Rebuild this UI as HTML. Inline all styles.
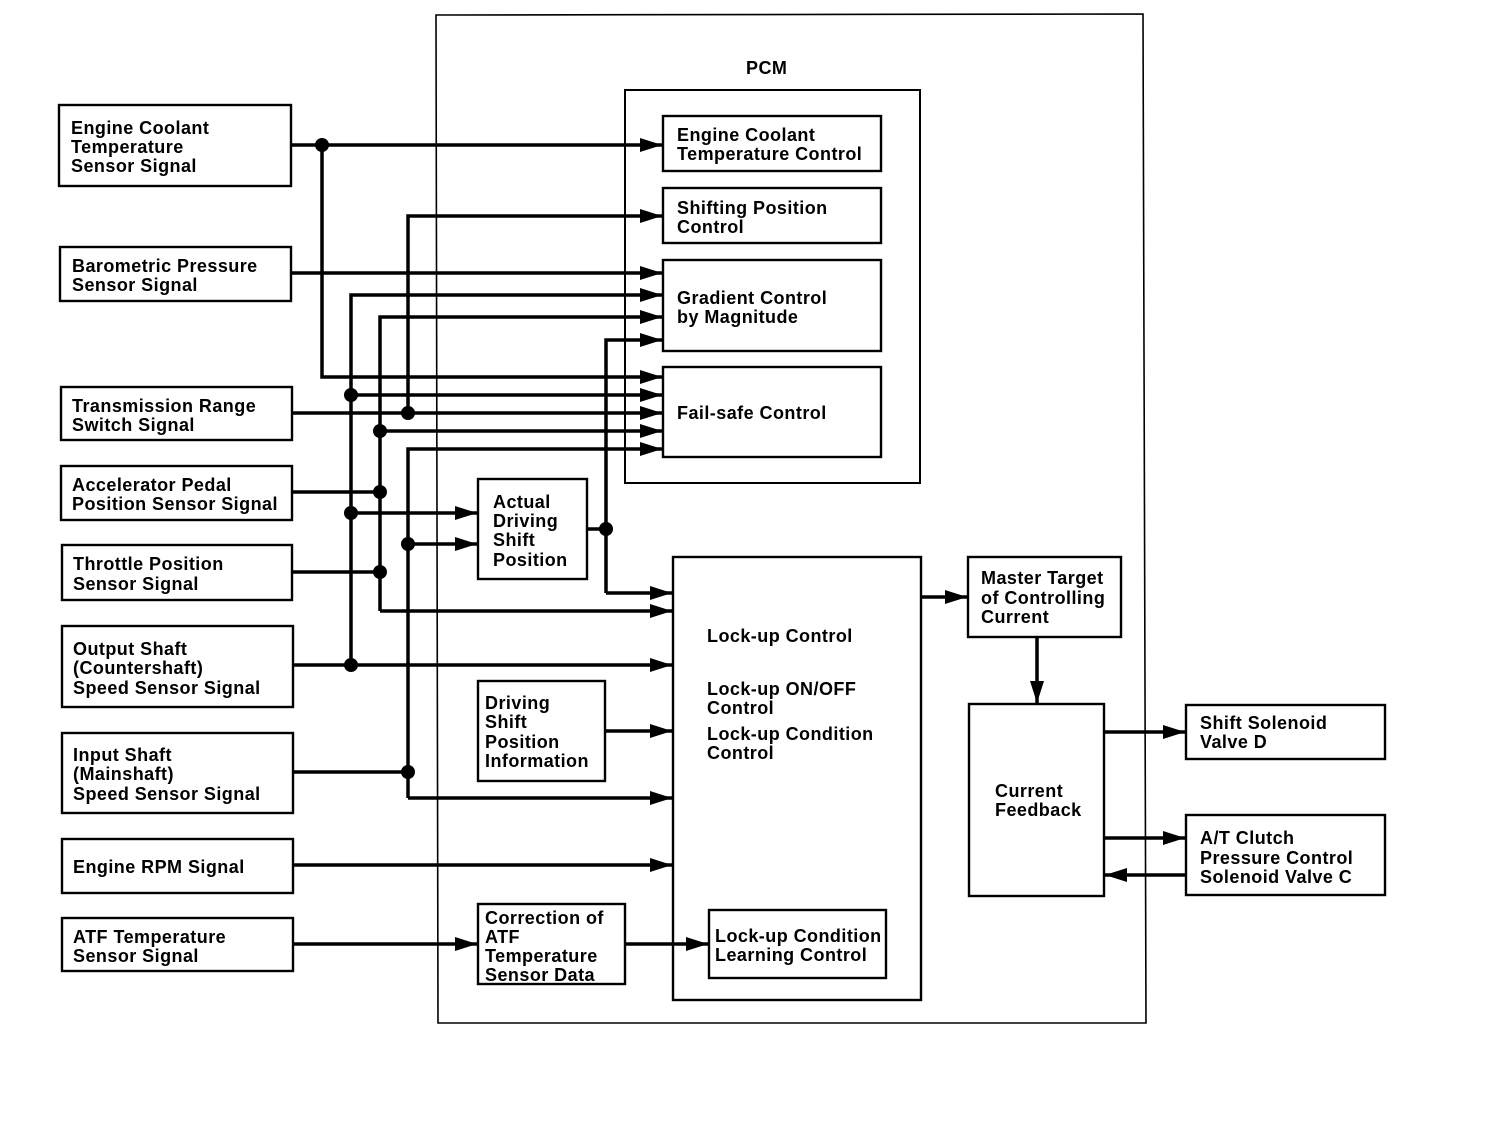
<!DOCTYPE html>
<html><head><meta charset="utf-8"><style>
html,body{margin:0;padding:0;background:#fff}
svg{display:block}
text{font-family:"Liberation Sans",Arial,sans-serif;font-weight:bold;font-size:18px;letter-spacing:0.45px;fill:#000}
</style></head><body>
<svg width="1504" height="1124" viewBox="0 0 1504 1124" xmlns="http://www.w3.org/2000/svg">
<defs>
<marker id="a" markerUnits="userSpaceOnUse" markerWidth="24" markerHeight="14" refX="22" refY="7" orient="auto">
<path d="M0,0 L22,7 L0,14 z" fill="#000"/></marker>
</defs>
<g fill="none" stroke="#000">
<polygon points="436,15 1143,14 1146,1023 438,1023" stroke-width="1.6"/>
<rect x="625" y="90" width="295" height="393" stroke-width="2"/>
<g stroke-width="2.4">
<rect x="663" y="116" width="218" height="55"/>
<rect x="663" y="188" width="218" height="55"/>
<rect x="663" y="260" width="218" height="91"/>
<rect x="663" y="367" width="218" height="90"/>
<rect x="478" y="479" width="109" height="100"/>
<rect x="673" y="557" width="248" height="443"/>
<rect x="478" y="681" width="127" height="100"/>
<rect x="478" y="904" width="147" height="80"/>
<rect x="709" y="910" width="177" height="68"/>
<rect x="968" y="557" width="153" height="80"/>
<rect x="969" y="704" width="135" height="192"/>
<rect x="1186" y="705" width="199" height="54"/>
<rect x="1186" y="815" width="199" height="80"/>
<rect x="59" y="105" width="232" height="81"/>
<rect x="60" y="247" width="231" height="54"/>
<rect x="61" y="387" width="231" height="53"/>
<rect x="61" y="466" width="231" height="54"/>
<rect x="62" y="545" width="230" height="55"/>
<rect x="62" y="626" width="231" height="81"/>
<rect x="62" y="733" width="231" height="80"/>
<rect x="62" y="839" width="231" height="54"/>
<rect x="62" y="918" width="231" height="53"/>
</g>
<g stroke-width="3.5" stroke-linejoin="miter">
<path d="M292,145 H662" marker-end="url(#a)"/>
<path d="M322,145 V377 H662" marker-end="url(#a)"/>
<path d="M408,413 V216 H662" marker-end="url(#a)"/>
<path d="M292,273 H662" marker-end="url(#a)"/>
<path d="M351,665 V295 H662" marker-end="url(#a)"/>
<path d="M380,611 V317 H662" marker-end="url(#a)"/>
<path d="M606,593 V340 H662" marker-end="url(#a)"/>
<path d="M351,395 H662" marker-end="url(#a)"/>
<path d="M292,413 H662" marker-end="url(#a)"/>
<path d="M380,431 H662" marker-end="url(#a)"/>
<path d="M408,798 V449 H662" marker-end="url(#a)"/>
<path d="M292,492 H380"/>
<path d="M351,513 H477" marker-end="url(#a)"/>
<path d="M408,544 H477" marker-end="url(#a)"/>
<path d="M587,529 H606"/>
<path d="M606,593 H672" marker-end="url(#a)"/>
<path d="M292,572 H380"/>
<path d="M380,611 H672" marker-end="url(#a)"/>
<path d="M292,665 H672" marker-end="url(#a)"/>
<path d="M605,731 H672" marker-end="url(#a)"/>
<path d="M292,772 H408"/>
<path d="M408,798 H672" marker-end="url(#a)"/>
<path d="M292,865 H672" marker-end="url(#a)"/>
<path d="M292,944 H477" marker-end="url(#a)"/>
<path d="M625,944 H708" marker-end="url(#a)"/>
<path d="M921,597 H967" marker-end="url(#a)"/>
<path d="M1037,637 V703" marker-end="url(#a)"/>
<path d="M1104,732 H1185" marker-end="url(#a)"/>
<path d="M1104,838 H1185" marker-end="url(#a)"/>
<path d="M1186,875 H1105" marker-end="url(#a)"/>
</g>
</g>
<g fill="#000">
<circle cx="322" cy="145" r="7"/>
<circle cx="351" cy="395" r="7"/>
<circle cx="408" cy="413" r="7"/>
<circle cx="380" cy="431" r="7"/>
<circle cx="380" cy="492" r="7"/>
<circle cx="351" cy="513" r="7"/>
<circle cx="408" cy="544" r="7"/>
<circle cx="606" cy="529" r="7"/>
<circle cx="380" cy="572" r="7"/>
<circle cx="351" cy="665" r="7"/>
<circle cx="408" cy="772" r="7"/>
</g>
<text x="746" y="74">PCM</text>
<text x="71" y="134">Engine Coolant<tspan x="71" y="153">Temperature</tspan><tspan x="71" y="172">Sensor Signal</tspan></text>
<text x="72" y="272">Barometric Pressure<tspan x="72" y="291">Sensor Signal</tspan></text>
<text x="72" y="412">Transmission Range<tspan x="72" y="431">Switch Signal</tspan></text>
<text x="72" y="491">Accelerator Pedal<tspan x="72" y="510">Position Sensor Signal</tspan></text>
<text x="73" y="570">Throttle Position<tspan x="73" y="590">Sensor Signal</tspan></text>
<text x="73" y="655">Output Shaft<tspan x="73" y="674">(Countershaft)</tspan><tspan x="73" y="694">Speed Sensor Signal</tspan></text>
<text x="73" y="761">Input Shaft<tspan x="73" y="780">(Mainshaft)</tspan><tspan x="73" y="800">Speed Sensor Signal</tspan></text>
<text x="73" y="873">Engine RPM Signal</text>
<text x="73" y="943">ATF Temperature<tspan x="73" y="962">Sensor Signal</tspan></text>
<text x="677" y="141">Engine Coolant<tspan x="677" y="160">Temperature Control</tspan></text>
<text x="677" y="214">Shifting Position<tspan x="677" y="233">Control</tspan></text>
<text x="677" y="304">Gradient Control<tspan x="677" y="323">by Magnitude</tspan></text>
<text x="677" y="419">Fail-safe Control</text>
<text x="493" y="508">Actual<tspan x="493" y="527">Driving</tspan><tspan x="493" y="546">Shift</tspan><tspan x="493" y="566">Position</tspan></text>
<text x="485" y="709">Driving<tspan x="485" y="728">Shift</tspan><tspan x="485" y="748">Position</tspan><tspan x="485" y="767">Information</tspan></text>
<text x="485" y="924">Correction of<tspan x="485" y="943">ATF</tspan><tspan x="485" y="962">Temperature</tspan><tspan x="485" y="981">Sensor Data</tspan></text>
<text x="707" y="642">Lock-up Control</text>
<text x="707" y="695">Lock-up ON/OFF<tspan x="707" y="714">Control</tspan></text>
<text x="707" y="740">Lock-up Condition<tspan x="707" y="759">Control</tspan></text>
<text x="715" y="942">Lock-up Condition<tspan x="715" y="961">Learning Control</tspan></text>
<text x="981" y="584">Master Target<tspan x="981" y="604">of Controlling</tspan><tspan x="981" y="623">Current</tspan></text>
<text x="995" y="797">Current<tspan x="995" y="816">Feedback</tspan></text>
<text x="1200" y="729">Shift Solenoid<tspan x="1200" y="748">Valve D</tspan></text>
<text x="1200" y="844">A/T Clutch<tspan x="1200" y="864">Pressure Control</tspan><tspan x="1200" y="883">Solenoid Valve C</tspan></text>
</svg>
</body></html>
